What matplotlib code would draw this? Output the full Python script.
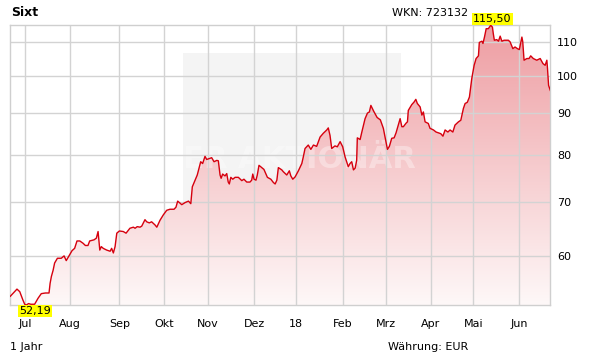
import numpy as np
import matplotlib
matplotlib.use("Agg")
import matplotlib.pyplot as plt
from matplotlib.colors import LinearSegmentedColormap
from matplotlib.patches import Rectangle
from matplotlib.ticker import NullLocator

# trading day index (0 = first day of the 1-year window) and close price in EUR
day = [0.0, 3.1, 4.4, 5.9, 6.7, 7.4, 8.5, 9.5, 11.3, 12.9,
       14.4, 16.3, 18.0, 18.5, 19.1, 19.9, 20.6, 21.9, 23.7, 25.0,
       26.0, 27.6, 28.7, 29.9, 31.0, 32.3, 33.8, 34.9, 36.1, 36.9,
       38.9, 40.0, 40.8, 41.6, 42.3, 43.2, 44.8, 46.4, 47.1, 47.9,
       48.7, 49.5, 50.7, 52.5, 53.8, 55.6, 57.2, 58.0, 59.0, 60.3,
       61.1, 62.6, 63.4, 64.6, 65.7, 67.3, 68.1, 69.6, 71.1, 72.7,
       74.2, 76.1, 77.0, 77.8, 79.7, 81.2, 82.8, 83.9, 84.6, 85.9,
       86.9, 87.9, 88.5, 89.4, 90.5, 91.3, 92.5, 93.6, 94.7, 96.0,
       96.7, 97.5, 98.0, 98.7, 99.8, 100.6, 101.3, 101.8, 102.5, 103.4,
       104.5, 106.0, 107.6, 108.6, 109.9, 111.4, 112.2, 112.7, 113.3, 114.2,
       114.8, 115.6, 116.9, 117.9, 119.5, 121.1, 122.3, 123.1, 123.9, 124.6,
       126.2, 126.9, 128.5, 129.7, 130.4, 131.3, 132.4, 133.9, 135.5, 136.2,
       137.0, 138.5, 139.7, 140.9, 142.4, 144.0, 145.5, 147.1, 147.8, 148.6,
       149.4, 150.9, 152.0, 153.3, 154.5, 155.6, 157.1, 157.9, 158.7, 159.5,
       160.3, 161.0, 161.3, 162.6, 163.4, 164.9, 166.0, 166.9, 167.6, 168.9,
       170.5, 172.0, 173.4, 174.2, 175.3, 176.2, 177.3, 178.4, 179.3, 181.2,
       182.0, 182.7, 184.0, 184.6, 185.0, 186.6, 187.7, 188.5, 189.2, 190.5,
       191.3, 192.0, 192.8, 194.3, 195.1, 196.7, 197.9, 199.0, 200.1, 201.1,
       202.1, 203.4, 204.4, 205.7, 206.7, 208.3, 209.4, 210.6, 211.4, 212.4,
       213.4, 214.5, 215.6, 216.5, 217.6, 218.0, 219.2, 219.7, 220.4, 221.2,
       222.2, 223.3, 224.1, 224.5, 225.0, 226.1, 226.9, 227.7, 228.5, 229.5,
       231.5, 232.3, 233.6, 234.6, 235.7, 236.6, 237.8, 238.2, 238.8, 240.1,
       241.1, 241.9, 243.1, 244.7, 246.3, 247.6, 248.6, 249.4, 249.7, 250.2, 251.0]

price = [53.5, 54.6, 54.2, 52.9, 52.3, 52.19, 52.4, 52.3, 52.3, 53.2,
         53.9, 54.0, 54.0, 55.5, 56.6, 57.6, 58.8, 59.6, 59.6, 60.0,
         59.2, 60.2, 60.9, 61.3, 62.6, 62.6, 62.2, 61.8, 61.8, 62.6,
         62.8, 63.1, 64.3, 61.0, 61.6, 61.3, 61.0, 60.8, 61.3, 60.5,
         61.6, 64.0, 64.4, 64.3, 64.0, 64.9, 65.1, 64.9, 65.2, 65.1,
         65.3, 66.5, 66.1, 65.9, 66.1, 65.5, 65.1, 66.4, 67.4, 68.3,
         68.5, 68.5, 68.9, 70.1, 69.4, 69.8, 70.1, 69.6, 73.0, 74.4,
         75.5, 77.3, 78.4, 78.0, 79.6, 78.9, 79.1, 79.3, 78.4, 78.7,
         78.6, 75.5, 74.8, 75.7, 75.3, 75.8, 74.0, 73.6, 75.0, 74.6,
         75.0, 75.0, 74.3, 74.6, 74.0, 74.0, 74.4, 75.7, 74.6, 74.4,
         75.5, 77.6, 77.1, 76.7, 75.0, 74.6, 73.9, 73.6, 74.4, 77.1,
         76.6, 76.2, 75.5, 76.4, 75.3, 74.6, 75.1, 76.4, 78.0, 79.5,
         81.4, 82.2, 81.2, 82.2, 81.9, 84.1, 85.0, 85.8, 86.3, 84.5,
         81.4, 82.0, 81.8, 83.0, 81.8, 79.5, 77.3, 78.0, 78.4, 76.6,
         77.0, 78.7, 83.9, 83.5, 85.3, 88.6, 90.0, 90.3, 92.0, 90.5,
         88.9, 88.3, 86.2, 84.1, 81.2, 81.9, 83.8, 83.9, 85.1, 88.6,
         86.6, 86.6, 87.5, 87.8, 90.7, 92.2, 92.9, 93.6, 92.5, 91.6,
         89.5, 90.3, 87.8, 87.4, 86.2, 85.8, 85.3, 85.1, 84.9, 84.3,
         85.8, 85.3, 85.8, 85.3, 87.0, 87.8, 88.2, 91.2, 92.5, 92.8,
         94.2, 99.3, 103.1, 105.1, 105.9, 110.0, 110.4, 109.7, 111.7, 114.4,
         114.4, 115.5, 114.9, 112.8, 110.7, 110.9, 110.4, 112.0, 110.4, 110.7,
         110.7, 110.2, 108.1, 108.6, 108.1, 107.8, 111.7, 110.2, 104.6, 105.1,
         105.1, 105.9, 105.1, 104.6, 105.1, 103.6, 103.1, 104.6, 102.2, 97.4, 96.0]

month_pos = [7.0, 27.9, 50.7, 71.6, 91.8, 113.5, 132.7, 154.5, 174.4, 195.4, 215.3, 236.4]
month_labels = ["Jul", "Aug", "Sep", "Okt", "Nov", "Dez", "18", "Feb", "Mrz", "Apr", "Mai", "Jun"]
y_ticks = [60, 70, 80, 90, 100, 110]

W, H = 611, 364
fig = plt.figure(figsize=(W / 100, H / 100), dpi=100)
ax = fig.add_axes([10.3 / W, 59 / H, 540 / W, 279.7 / H])
ax.set_yscale("log")

lo, hi = min(price), max(price)

# light grey watermark box
ax.add_patch(Rectangle((0.319, 0.125), 0.404, 0.777, transform=ax.transAxes,
                       facecolor="#f4f4f4", edgecolor="none", zorder=0.1))

# gradient fill under the line
poly = ax.fill_between(day, price, lo, color="none", lw=0)
cmap = LinearSegmentedColormap.from_list("sixt", ["#fef8f8", "#ee9da2"])
grad = ax.imshow(np.linspace(0, 1, 256).reshape(-1, 1), cmap=cmap, origin="lower",
                 extent=[0, 1, 0, 1], transform=ax.transAxes, aspect="auto", zorder=1)
grad.set_clip_path(poly.get_paths()[0], ax.transData)
ax.set_xlim(0, 251)
ax.set_ylim(lo, hi)

ax.text(0.513, 0.52, "DER AKTIONÄR", transform=ax.transAxes, ha="center", va="center",
        fontsize=22, fontweight="bold", color="white", alpha=0.35, zorder=1.5)

ax.plot(day, price, color="#d6000e", lw=1.0, zorder=3)

ax.grid(True, color="#d3d3d3", lw=1.0)
for g in ax.get_xgridlines() + ax.get_ygridlines():
    g.set_zorder(2)
for s in ax.spines.values():
    s.set_color("#cfcfcf")
    s.set_linewidth(1.0)

ax.set_xticks(month_pos)
ax.set_xticklabels(month_labels)
ax.yaxis.tick_right()
ax.set_yticks(y_ticks)
ax.set_yticklabels([str(v) for v in y_ticks])
ax.yaxis.set_minor_locator(NullLocator())
ax.tick_params(axis="both", length=0, labelsize=8, colors="black")
ax.tick_params(axis="x", pad=10)
ax.tick_params(axis="y", pad=5)

# min / max labels
i_max = price.index(hi)
i_min = price.index(lo)
box = dict(boxstyle="square,pad=0.1", facecolor="#ffff00", edgecolor="none")
ax.annotate(f"{hi:.2f}".replace(".", ","), (day[i_max], hi), xytext=(1.3, 4.8),
            textcoords="offset points", ha="center", va="center", fontsize=8,
            bbox=box, zorder=5, annotation_clip=False)
ax.annotate(f"{lo:.2f}".replace(".", ","), (day[i_min], lo), xytext=(6.3, -4.3),
            textcoords="offset points", ha="center", va="center", fontsize=8,
            bbox=box, zorder=5, annotation_clip=False)

fig.text(11 / W, 1 - 13 / H, "Sixt", fontsize=9, fontweight="bold", va="center")
fig.text(392 / W, 1 - 13 / H, "WKN: 723132", fontsize=8, va="center")
fig.text(10 / W, 1 - 347 / H, "1 Jahr", fontsize=8, va="center")
fig.text(388 / W, 1 - 347 / H, "Währung: EUR", fontsize=8, va="center")

fig.savefig("out.png", dpi=100)
